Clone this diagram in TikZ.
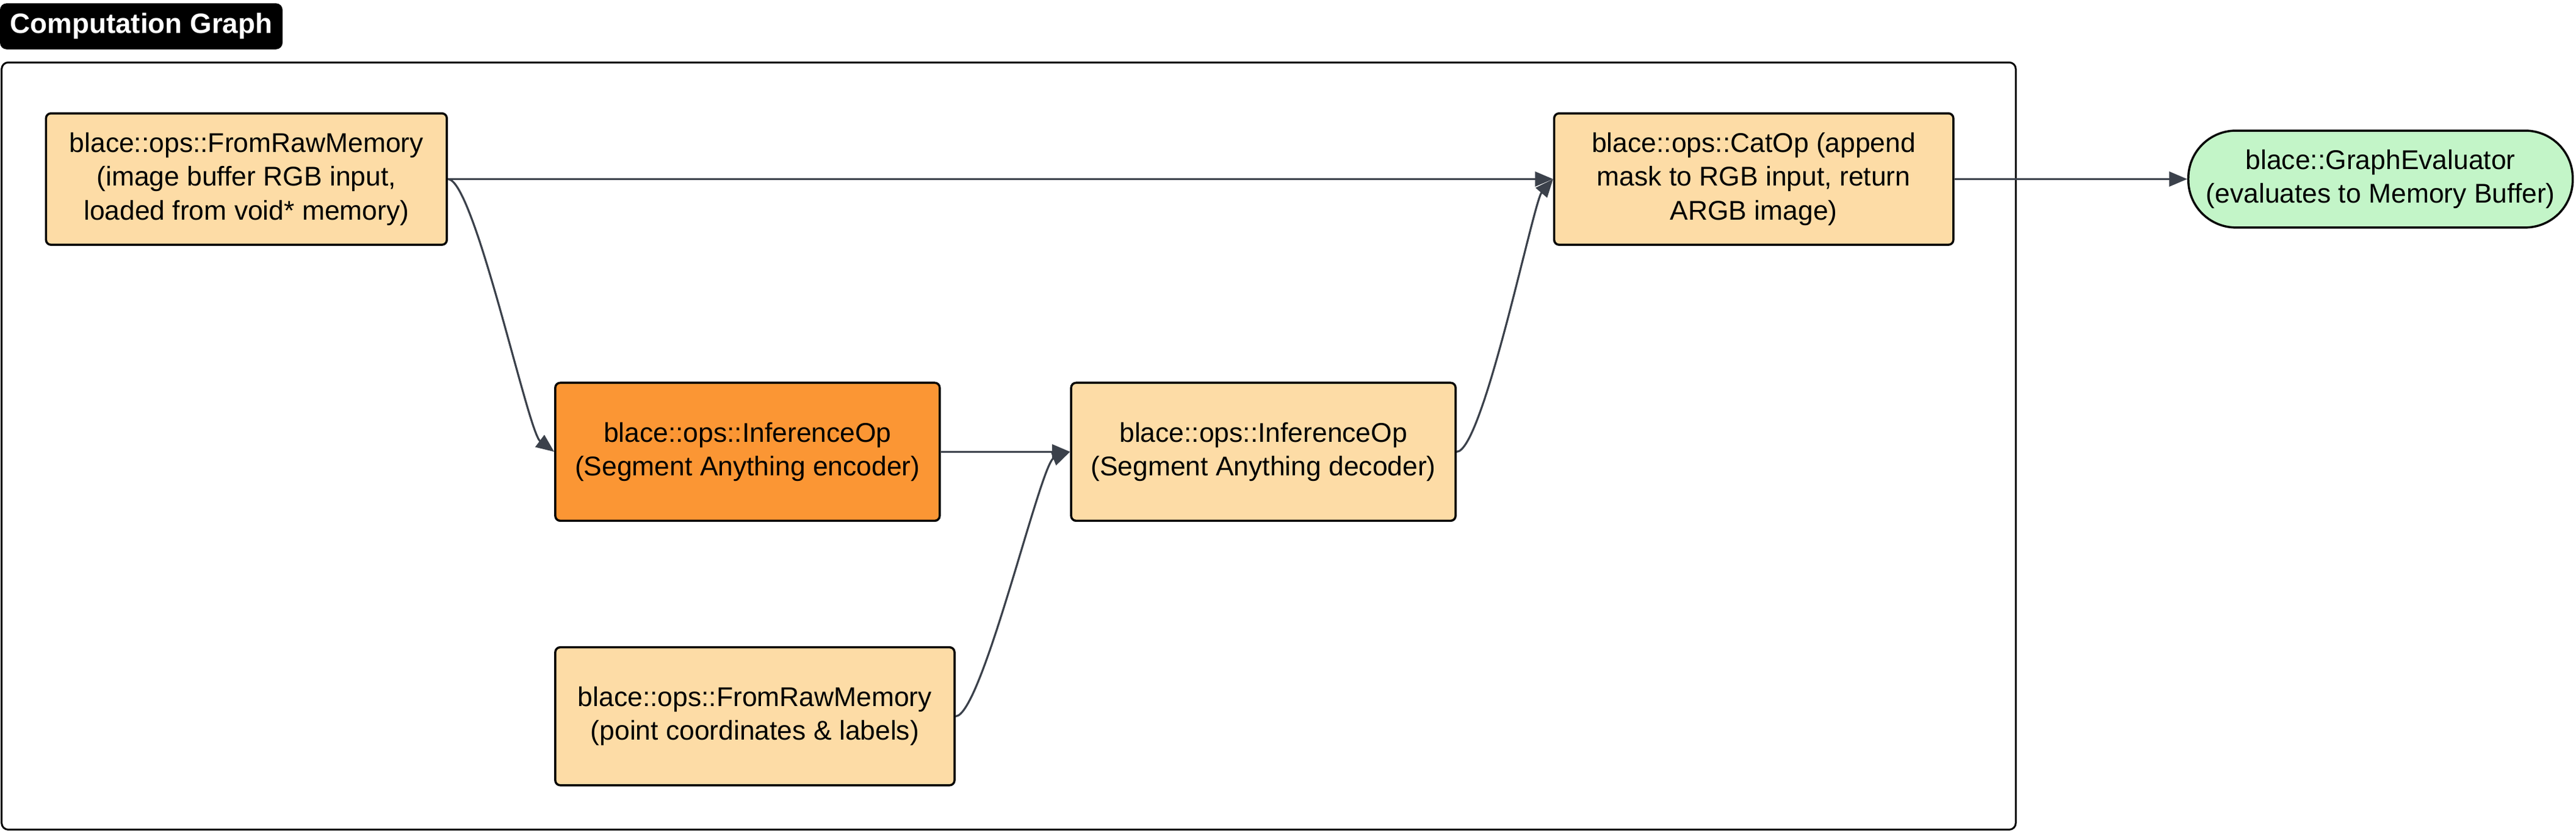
\documentclass[tikz,border=0pt]{standalone}
\usepackage{fontspec}
\setmainfont{Liberation Sans}
\usetikzlibrary{positioning, arrows.meta}
\definecolor{opfill}{HTML}{FDDCA6}
\definecolor{encfill}{HTML}{FB9634}
\definecolor{evalfill}{HTML}{C3F5C8}
\definecolor{edgegray}{HTML}{3B414B}

\begin{document}
\begin{tikzpicture}[
    x=1pt, y=1pt,
    on grid,
    every node/.style={font=\fontsize{16.5}{20.5}\selectfont},
    op/.style={draw=black, line width=1.3pt, rounded corners=3pt, fill=opfill, align=center, inner sep=2pt, minimum width=244pt, minimum height=80pt},
    flow/.style={draw=edgegray, line width=1.2pt, -{Triangle[length=11pt, width=9pt]}}
]

   \useasboundingbox (0,0) rectangle (1568,-507);

   % Header and frame
   \node[fill=black, rounded corners=4pt, minimum width=172pt, minimum height=28pt, inner sep=0pt,
         text=white, font=\fontsize{17}{20}\selectfont\bfseries] (title) at (86,-16) {Computation Graph};
   \draw[line width=1.1pt, rounded corners=4pt] (1,-38) rectangle (1227,-505);

   % Operations
   \node[op] (op0) at (150,-109) {blace::ops::FromRawMemory\\(image buffer RGB input,\\loaded from void* memory)};
   \node[op, minimum width=243pt] (op1) [right=917.5pt of op0] {blace::ops::CatOp (append\\mask to RGB input, return\\ARGB image)};
   \node[op, fill=encfill, minimum width=234pt, minimum height=84pt] (op2) [below right=166pt and 305pt of op0] {blace::ops::InferenceOp\\(Segment Anything encoder)};
   \node[op, minimum width=234pt, minimum height=84pt] (op3) [right=314pt of op2] {blace::ops::InferenceOp\\(Segment Anything decoder)};
   \node[op, minimum width=243pt, minimum height=84pt] (op4) [below right=161pt and 4.5pt of op2] {blace::ops::FromRawMemory\\(point coordinates \& labels)};
   \node[op, fill=evalfill, rounded corners=29pt, minimum width=234pt, minimum height=59pt] (ev) [right=381.5pt of op1] {blace::GraphEvaluator\\(evaluates to Memory Buffer)};

   % Connections
   \draw[flow] (op0.east) -- (op1.west);
   \draw[flow] (op0.east) .. controls +(16,0) and +(-16,12) .. (op2.west);
   \draw[flow] (op2.east) -- (op3.west);
   \draw[flow] (op4.east) .. controls +(16,0) and +(-18,-7) .. (op3.west);
   \draw[flow] (op3.east) .. controls +(16,0) and +(-12,-14) .. (op1.west);
   \draw[flow] (op1.east) -- (ev.west);
\end{tikzpicture}
\end{document}
